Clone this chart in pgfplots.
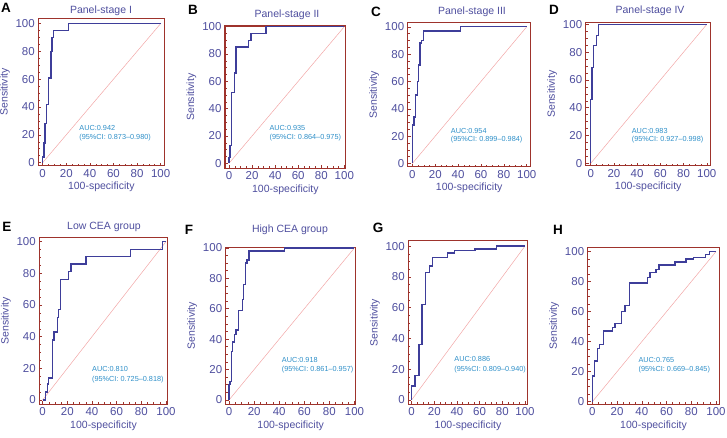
\documentclass[border=0pt]{standalone}
\usepackage{fontspec}
\setmainfont{Liberation Sans}
\usepackage{pgfplots}
\pgfplotsset{compat=1.18}
\definecolor{curve}{HTML}{3E3E9A}
\definecolor{frame}{HTML}{9E332C}
\definecolor{diag}{HTML}{F2A6A6}
\definecolor{lab}{HTML}{4E4E9E}
\definecolor{auc}{HTML}{2E8FC8}
\pgfplotsset{roc/.style={
  scale only axis, anchor=south west,
  axis line style={frame, line width=1.1pt},
  xtick={0,20,...,100}, ytick={0,20,...,100},
  minor tick num=3,
  tick style={frame, line width=0.5pt},
  major tick length=3pt, minor tick length=2pt,
  tick align=inside,
  xtick pos=bottom, ytick pos=left,
  tick label style={font=\fontsize{11.5}{13}\selectfont, text=lab},
  label style={font=\fontsize{10.5}{12}\selectfont, text=lab},
  /pgf/number format/assume math mode=true,
  xlabel={100-specificity}, ylabel={Sensitivity},
  xlabel style={yshift=2pt},
  ylabel style={yshift=-1pt},
  clip=false,
}}
\newcommand{\auc}[4]{%
  \node[anchor=west, text=auc, font=\fontsize{7.3}{8}\selectfont, inner sep=0pt] at (axis cs:#1,#2) {AUC:#3};
  \node[anchor=west, text=auc, font=\fontsize{7.3}{8}\selectfont, inner sep=0pt] at (axis cs:#1,#2-6.5) {(95\%CI: #4)};}
\begin{document}
\begin{tikzpicture}
\useasboundingbox (0,0) rectangle (727pt,437pt);
% A
\begin{axis}[roc, at={(38.3pt,271.3pt)}, width=126pt, height=147.4pt,
  xmin=-3.7, xmax=103.1, ymin=-2.2, ymax=103.8]
\addplot[diag, line width=0.5pt] coordinates {(0,0) (100,100)};
\addplot[curve, line width=1.4pt] coordinates {(0,0)(0,4)(1,4)(1,14)(2,14)(2,28)(3.5,28)(3.5,42)(5,42)(5,61)(7,61)(7,80)(8,80)(8,90)(9,90)(9,95)(22,95)(22,100)(100,100)};
\auc{31}{24.7}{0.942}{0.873--0.980}
\end{axis}
% B
\begin{axis}[roc, at={(225pt,268.7pt)}, width=120.7pt, height=142.3pt,
  xmin=-3.5, xmax=101.2, ymin=-3.7, ymax=100.5]
\addplot[diag, line width=0.5pt] coordinates {(0,0) (100,100)};
\addplot[curve, line width=1.4pt] coordinates {(0,0)(0,4)(1,4)(1,13)(2.3,13)(2.3,52)(4.6,52)(4.6,66)(6,66)(6,85)(17,85)(17,90)(19,90)(19,95)(32,95)(32,100)(100,100)};
\auc{35}{25.6}{0.935}{0.864--0.975}
\end{axis}
% C
\begin{axis}[roc, at={(407.7pt,270.3pt)}, width=123pt, height=144pt,
  xmin=-4.1, xmax=103.5, ymin=-2.4, ymax=103]
\addplot[diag, line width=0.5pt] coordinates {(0,0) (100,100)};
\addplot[curve, line width=1.4pt] coordinates {(0,0)(0,28)(1.5,28)(1.5,34)(2.6,34)(2.6,50)(4.4,50)(4.4,60)(5.5,60)(5.5,72)(6.7,72)(6.7,88)(8.2,88)(8.2,90)(9.6,90)(9.6,97)(42,97)(42,100)(100,100)};
\auc{33.5}{23.7}{0.954}{0.899--0.984}
\end{axis}
% D
\begin{axis}[roc, at={(585.7pt,271.3pt)}, width=125pt, height=143pt,
  xmin=-4.3, xmax=103.4, ymin=-1.7, ymax=101.2]
\addplot[diag, line width=0.5pt] coordinates {(0,0) (100,100)};
\addplot[curve, line width=1.4pt] coordinates {(0,0)(0,46)(1,46)(1,69)(2.3,69)(2.3,85)(5,85)(5,92)(6.9,92)(6.9,100)(100,100)};
\auc{35.3}{23.3}{0.983}{0.927--0.998}
\end{axis}
% E
\begin{axis}[roc, at={(39.3pt,32.7pt)}, width=128.4pt, height=166.6pt,
  xmin=-2.7, xmax=101.4, ymin=-2.7, ymax=102.5]
\addplot[diag, line width=0.5pt] coordinates {(0,0) (100,100)};
\addplot[curve, line width=1.4pt] coordinates {(0,0)(2.4,0)(2.4,5)(3.8,5)(3.8,10)(5,10)(5,14)(7.8,14)(7.8,38)(9.2,38)(9.2,43)(12,43)(12,52)(13,52)(13,57)(14.6,57)(14.6,76)(21,76)(21,81)(23,81)(23,86)(35,86)(35,90.5)(71,90.5)(71,95)(97,95)(97,100)(100,100)};
\auc{40}{19.6}{0.810}{0.725--0.818}
\end{axis}
% F
\begin{axis}[roc, at={(225.7pt,32.7pt)}, width=130pt, height=157pt,
  xmin=-2.7, xmax=101, ymin=-2.9, ymax=100.4]
\addplot[diag, line width=0.5pt] coordinates {(0,0) (100,100)};
\addplot[curve, line width=1.4pt] coordinates {(0,0)(0,10)(0.8,10)(0.8,12)(2.1,12)(2.1,32)(2.9,32)(2.9,38)(4.3,38)(4.3,43)(5.6,43)(5.6,46)(7.4,46)(7.4,59)(10.6,59)(10.6,66)(11.7,66)(11.7,76)(13,76)(13,90)(14.4,90)(14.4,92)(16,92)(16,98)(44,98)(44,100)(100,100)};
\auc{42}{26.4}{0.918}{0.861--0.957}
\end{axis}
% G
\begin{axis}[roc, at={(408.3pt,32.7pt)}, width=119.4pt, height=163.6pt,
  xmin=-2.9, xmax=102.4, ymin=-2.8, ymax=103.5]
\addplot[diag, line width=0.5pt] coordinates {(0,0) (100,100)};
\addplot[curve, line width=1.4pt] coordinates {(0,0)(0,9)(2.9,9)(2.9,16)(6.5,16)(6.5,36)(9.1,36)(9.1,62)(12.4,62)(12.4,83)(15.6,83)(15.6,87)(18.5,87)(18.5,92.5)(31.5,92.5)(31.5,95.5)(37.6,95.5)(37.6,97)(56,97)(56,98)(75,98)(75,100)(100,100)};
\auc{37.6}{26.4}{0.886}{0.809--0.940}
\end{axis}
% H
\begin{axis}[roc, at={(587.7pt,32.7pt)}, width=131.6pt, height=157pt,
  xmin=-3.8, xmax=102.7, ymin=-1.8, ymax=102.9]
\addplot[diag, line width=0.5pt] coordinates {(0,0) (100,100)};
\addplot[curve, line width=1.4pt] coordinates {(0,0)(0,17)(1.6,17)(1.6,27)(4,27)(4,35.5)(5.7,35.5)(5.7,38)(8.9,38)(8.9,47)(16.4,47)(16.4,49.6)(18.3,49.6)(18.3,52)(23.7,52)(23.7,60)(26.4,60)(26.4,64)(30,64)(30,79)(44.5,79)(44.5,82.7)(46.6,82.7)(46.6,86)(51.5,86)(51.5,88)(54,88)(54,91)(67,91)(67,93)(75.7,93)(75.7,95)(82,95)(82,96)(91.6,96)(91.6,98.2)(95,98.2)(95,100)(100,100)};
\auc{37.2}{27.8}{0.765}{0.669--0.845}
\end{axis}
% titles
\begin{scope}[every node/.style={text=lab, font=\fontsize{10.5}{12}\selectfont}]
\node at (101pt,426pt) {Panel-stage I};
\node at (287pt,422pt) {Panel-stage II};
\node at (472pt,425pt) {Panel-stage III};
\node at (650pt,426pt) {Panel-stage IV};
\node at (104pt,210pt) {Low CEA group};
\node at (290pt,207pt) {High CEA group};
\end{scope}
% panel letters
\begin{scope}[every node/.style={font=\fontsize{13.5}{14}\selectfont\bfseries}]
\node at (6pt,429pt) {A};
\node at (193pt,427pt) {B};
\node at (376pt,425pt) {C};
\node at (554pt,427pt) {D};
\node at (7pt,210pt) {E};
\node at (189pt,207pt) {F};
\node at (378pt,209pt) {G};
\node at (558pt,207pt) {H};
\end{scope}
\end{tikzpicture}
\end{document}
